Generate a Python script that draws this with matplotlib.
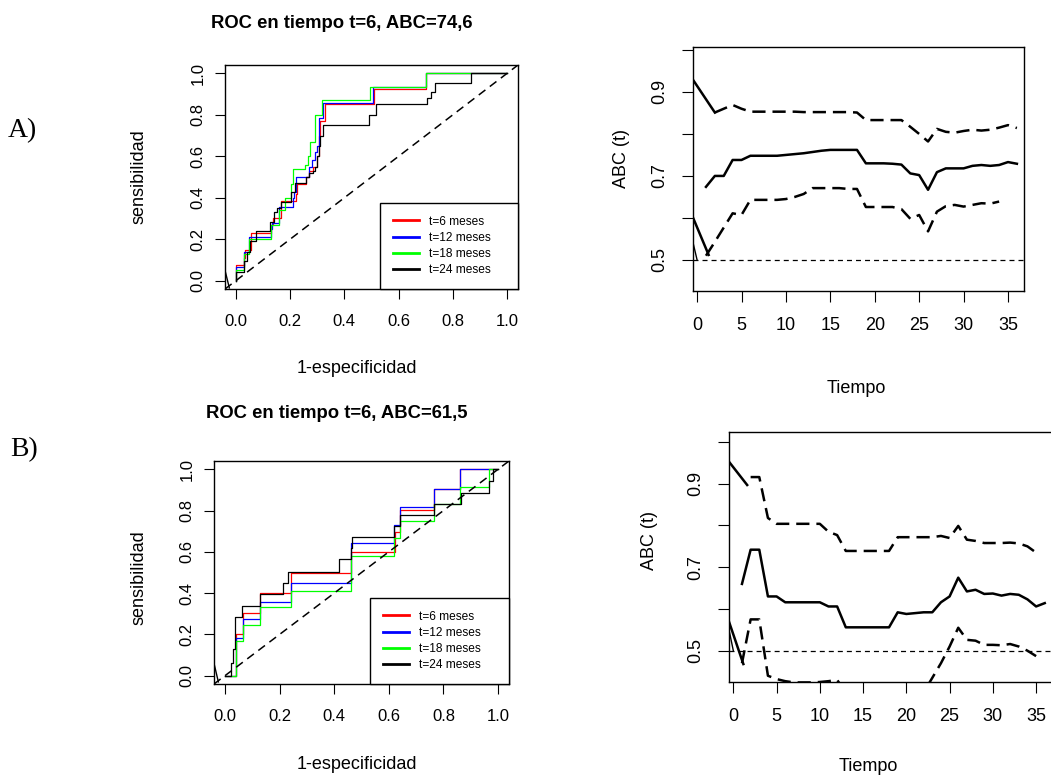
import numpy as np
import matplotlib
matplotlib.use("Agg")
import matplotlib.pyplot as plt
from matplotlib.lines import Line2D

plt.rcParams['font.family'] = ['Liberation Sans', 'DejaVu Sans']
plt.rcParams['lines.scale_dashes'] = False

nan = np.nan

# ---------------- datos: curvas ROC (1-especificidad, sensibilidad) ----------------
etiquetas = ["t=6 meses", "t=12 meses", "t=18 meses", "t=24 meses"]
colores = ["#FF0000", "#0000FF", "#00FF00", "#000000"]

# panel A
fpr_A6 = [0, 0, 0.03, 0.035, 0.054, 0.13, 0.138, 0.165, 0.22, 0.224, 0.26, 0.27,
          0.285, 0.298, 0.305, 0.312, 0.328, 0.509, 0.70, 1.0]
tpr_A6 = [0, 0.074, 0.11, 0.15, 0.23, 0.27, 0.30, 0.385, 0.42, 0.464, 0.50, 0.53,
          0.55, 0.60, 0.70, 0.77, 0.85, 0.926, 1.0, 1.0]
fpr_A12 = [0, 0, 0.03, 0.05, 0.13, 0.135, 0.16, 0.21, 0.215, 0.222, 0.27, 0.28,
           0.29, 0.298, 0.305, 0.32, 0.505, 0.70, 1.0]
tpr_A12 = [0, 0.065, 0.14, 0.21, 0.25, 0.28, 0.353, 0.40, 0.43, 0.50, 0.55, 0.58,
           0.62, 0.65, 0.786, 0.857, 0.934, 1.0, 1.0]
fpr_A18 = [0, 0, 0.03, 0.05, 0.125, 0.13, 0.16, 0.18, 0.205, 0.21, 0.255, 0.265,
           0.275, 0.29, 0.30, 0.318, 0.495, 0.70, 1.0]
tpr_A18 = [0, 0.05, 0.13, 0.20, 0.20, 0.27, 0.34, 0.40, 0.466, 0.537, 0.56, 0.60,
           0.67, 0.80, 0.80, 0.869, 0.935, 1.0, 1.0]
fpr_A24 = [0, 0, 0.03, 0.04, 0.052, 0.074, 0.125, 0.14, 0.15, 0.168, 0.205, 0.218,
           0.26, 0.27, 0.285, 0.29, 0.298, 0.305, 0.31, 0.322, 0.49, 0.515, 0.705,
           0.718, 0.734, 0.868, 1.0]
tpr_A24 = [0, 0.044, 0.097, 0.14, 0.19, 0.241, 0.283, 0.33, 0.35, 0.38, 0.43, 0.47,
           0.50, 0.52, 0.53, 0.55, 0.60, 0.65, 0.70, 0.75, 0.80, 0.854, 0.88,
           0.909, 0.951, 1.0, 1.0]

# panel B
fpr_B6 = [0, 0.04, 0.066, 0.129, 0.241, 0.461, 0.621, 0.64, 0.765, 0.86, 1.0]
tpr_B6 = [0, 0.20, 0.302, 0.40, 0.50, 0.60, 0.698, 0.803, 0.905, 1.0, 1.0]
fpr_B12 = [0, 0.04, 0.066, 0.13, 0.241, 0.461, 0.618, 0.64, 0.765, 0.86, 1.0]
tpr_B12 = [0, 0.181, 0.273, 0.359, 0.45, 0.641, 0.73, 0.816, 0.905, 1.0, 1.0]
fpr_B18 = [0, 0.042, 0.066, 0.13, 0.241, 0.462, 0.62, 0.64, 0.765, 0.862, 0.965, 1.0]
tpr_B18 = [0, 0.168, 0.245, 0.334, 0.412, 0.582, 0.669, 0.75, 0.832, 0.916, 1.0, 1.0]
fpr_B24 = [0, 0.023, 0.03, 0.037, 0.061, 0.127, 0.213, 0.232, 0.419, 0.461, 0.464,
           0.618, 0.642, 0.765, 0.863, 0.968, 0.98, 1.0]
tpr_B24 = [0, 0.06, 0.128, 0.283, 0.338, 0.396, 0.45, 0.504, 0.564, 0.617, 0.67,
           0.727, 0.779, 0.832, 0.887, 0.945, 1.0, 1.0]

# trazo suelto junto al origen
resto_x = [-0.04, -0.024]
resto_A = [0.05, -0.035]
resto_B = [0.06, -0.03]

# ---------------- datos: ABC(t) con bandas ----------------
tiempo = np.arange(0, 37)

abc_A = [nan, 0.674, 0.70, 0.70, 0.738, 0.738, 0.748, 0.748, 0.748, 0.748, 0.75,
         0.752, 0.754, 0.757, 0.76, 0.762, 0.762, 0.762, 0.762, 0.73, 0.73, 0.73,
         0.729, 0.727, 0.706, 0.702, 0.667, 0.709, 0.718, 0.718, 0.718, 0.724,
         0.726, 0.724, 0.726, 0.733, 0.729]
sup_A = [nan, nan, 0.851, 0.86, 0.869, 0.86, 0.853, 0.853, 0.853, 0.853, 0.853,
         0.853, 0.852, 0.852, 0.852, 0.852, 0.852, 0.852, 0.851, 0.833, 0.833,
         0.833, 0.833, 0.833, 0.817, 0.80, 0.782, 0.812, 0.805, 0.803, 0.807,
         0.81, 0.808, 0.81, 0.815, 0.821, 0.814]
inf_A = [nan, 0.51, 0.543, 0.577, 0.611, 0.607, 0.643, 0.643, 0.643, 0.643, 0.645,
         0.65, 0.657, 0.671, 0.671, 0.671, 0.671, 0.669, 0.669, 0.626, 0.626,
         0.626, 0.626, 0.621, 0.598, 0.607, 0.568, 0.615, 0.628, 0.631, 0.627,
         0.631, 0.635, 0.634, 0.639, nan, nan]

abc_B = [nan, 0.66, 0.742, 0.742, 0.63, 0.63, 0.616, 0.616, 0.616, 0.616, 0.616,
         0.606, 0.606, 0.556, 0.556, 0.556, 0.556, 0.556, 0.556, 0.592, 0.588,
         0.59, 0.592, 0.592, 0.616, 0.63, 0.675, 0.642, 0.646, 0.636, 0.637,
         0.632, 0.636, 0.634, 0.623, 0.606, 0.614]
sup_B = [nan, nan, 0.916, 0.916, 0.818, 0.804, 0.804, 0.804, 0.804, 0.804, 0.804,
         0.785, 0.777, 0.739, 0.739, 0.739, 0.739, 0.739, 0.739, 0.772, 0.772,
         0.772, 0.772, 0.772, 0.775, 0.77, 0.799, 0.766, 0.763, 0.758, 0.758,
         0.758, 0.759, 0.757, 0.75, 0.735, nan]
inf_B = [nan, 0.47, 0.575, 0.575, 0.44, 0.432, 0.427, 0.424, 0.424, 0.424, 0.425,
         0.427, 0.43, 0.40, 0.40, 0.40, 0.40, 0.40, 0.40, 0.40, 0.40, 0.40, 0.40,
         0.435, 0.47, 0.51, 0.555, 0.526, 0.524, 0.514, 0.514, 0.513, 0.516,
         0.51, 0.50, 0.487, nan]

# tramos iniciales (continuos) que entran por el borde izquierdo
ini_sup_tA, ini_sup_A = [-1, 2], [0.946, 0.851]
ini_inf_tA, ini_inf_A = [-1, 1.3], [0.628, 0.512]
ini_fino_tA, ini_fino_A = [-1, 0], [0.59, 0.50]
ini_sup_tB, ini_sup_B = [-1, 1.6], [0.966, 0.897]
ini_inf_tB, ini_inf_B = [-1, 1.16], [0.60, 0.468]
ini_fino_tB, ini_fino_B = [-1, 0], [0.60, 0.50]

# ---------------- figura ----------------
W, H = 1051, 780
fig = plt.figure(figsize=(W / 100, H / 100), dpi=100)


def caja(l, t, r, b):
    # rectangulo de ejes dado en pixeles de la imagen
    return fig.add_axes([l / W, 1 - b / H, (r - l) / W, (b - t) / H])


def texto(x, y, s, **kw):
    fig.text(x / W, 1 - y / H, s, **kw)


def marco(ax):
    for s in ax.spines.values():
        s.set_linewidth(1.0)
        s.set_color("black")


def panel_roc(ax, curvas, resto_y):
    for (fx, ty), c in zip(curvas, colores):
        ax.plot(fx, ty, drawstyle="steps-post", color=c, lw=0.9)
    ax.plot(resto_x, resto_y, color="black", lw=1.0)
    ax.axline((0, 0), slope=1, color="black", lw=1.1, ls=(0, (6, 4)))
    ax.set_xlim(-0.04, 1.04)
    ax.set_ylim(-0.04, 1.04)
    marcas = [0.0, 0.2, 0.4, 0.6, 0.8, 1.0]
    ax.set_xticks(marcas, ["%.1f" % m for m in marcas])
    ax.set_yticks(marcas, ["%.1f" % m for m in marcas], rotation=90, va="center")
    ax.tick_params(axis="both", direction="out", length=7.2, width=0.8,
                   labelsize=12)
    ax.tick_params(axis="x", pad=10.5)
    ax.tick_params(axis="y", pad=6.8)
    marco(ax)
    manijas = [Line2D([], [], color=c, lw=2.0) for c in colores]
    leg = ax.legend(manijas, etiquetas, loc="lower right",
                    bbox_to_anchor=(0.529, 0, 0.471, 1), mode="expand",
                    borderaxespad=0, fontsize=8.6, handlelength=2.2,
                    handletextpad=0.84, borderpad=1.05, labelspacing=0.36,
                    fancybox=False, framealpha=1, edgecolor="black")
    leg.get_frame().set_linewidth(1.0)


def panel_abc(ax, abc, inf, sup, tramos, xlim, ylim):
    ax.axhline(0.5, color="black", lw=0.9, ls=(0, (3.6, 2.9)))
    ax.plot(tiempo, abc, color="black", lw=1.8)
    ax.plot(tiempo, sup, color="black", lw=1.8, ls=(0, (9.5, 5)))
    ax.plot(tiempo, inf, color="black", lw=1.8, ls=(0, (9.5, 5)))
    for t, v, g in tramos:
        ax.plot(t, v, color="black", lw=g)
    ax.set_xlim(*xlim)
    ax.set_ylim(*ylim)
    ax.set_xticks(np.arange(0, 36, 5))
    ax.set_yticks([0.5, 0.6, 0.7, 0.8, 0.9, 1.0],
                  ["0.5", "", "0.7", "", "0.9", ""], rotation=90, va="center")
    ax.tick_params(axis="both", direction="out", length=7.9, width=0.8,
                   labelsize=13)
    ax.tick_params(axis="x", pad=10.9)
    ax.tick_params(axis="y", pad=10.2)
    marco(ax)


# A) ROC
ax1 = caja(225, 65, 518, 289)
panel_roc(ax1, [(fpr_A6, tpr_A6), (fpr_A12, tpr_A12), (fpr_A18, tpr_A18),
                (fpr_A24, tpr_A24)], resto_A)

# B) ROC
ax3 = caja(214, 461, 509, 684)
panel_roc(ax3, [(fpr_B6, tpr_B6), (fpr_B12, tpr_B12), (fpr_B18, tpr_B18),
                (fpr_B24, tpr_B24)], resto_B)

# A) ABC(t)
ax2 = caja(693, 47, 1024, 291)
panel_abc(ax2, abc_A, inf_A, sup_A,
          [(ini_sup_tA, ini_sup_A, 1.8), (ini_inf_tA, ini_inf_A, 1.8),
           (ini_fino_tA, ini_fino_A, 1.0)],
          (-0.46, 36.8), (0.426, 1.007))

# B) ABC(t)
ax4 = caja(729, 432, 1056, 682)
panel_abc(ax4, abc_B, inf_B, sup_B,
          [(ini_sup_tB, ini_sup_B, 1.8), (ini_inf_tB, ini_inf_B, 1.8),
           (ini_fino_tB, ini_fino_B, 1.0)],
          (-0.5, 37.3), (0.425, 1.024))

# textos
texto(8, 131, "A)", family="Liberation Serif", fontsize=20, ha="left", va="center")
texto(10, 450, "B)", family="Liberation Serif", fontsize=20, ha="left", va="center")
texto(342, 23.5, "ROC en tiempo t=6, ABC=74,6", fontsize=13.3, weight="bold",
      ha="center", va="center")
texto(337, 413.5, "ROC en tiempo t=6, ABC=61,5", fontsize=13.3, weight="bold",
      ha="center", va="center")
texto(139, 177, "sensibilidad", fontsize=13, rotation=90, ha="center", va="center")
texto(139, 578, "sensibilidad", fontsize=13, rotation=90, ha="center", va="center")
texto(357, 373, "1-especificidad", fontsize=13, ha="center", va="baseline")
texto(357, 769, "1-especificidad", fontsize=13, ha="center", va="baseline")
texto(622, 158, "ABC (t)", fontsize=13, rotation=90, ha="center", va="center")
texto(649, 540, "ABC (t)", fontsize=13, rotation=90, ha="center", va="center")
texto(856, 393, "Tiempo", fontsize=13, ha="center", va="baseline")
texto(868, 771, "Tiempo", fontsize=13, ha="center", va="baseline")

fig.savefig("out.png", dpi=100)
